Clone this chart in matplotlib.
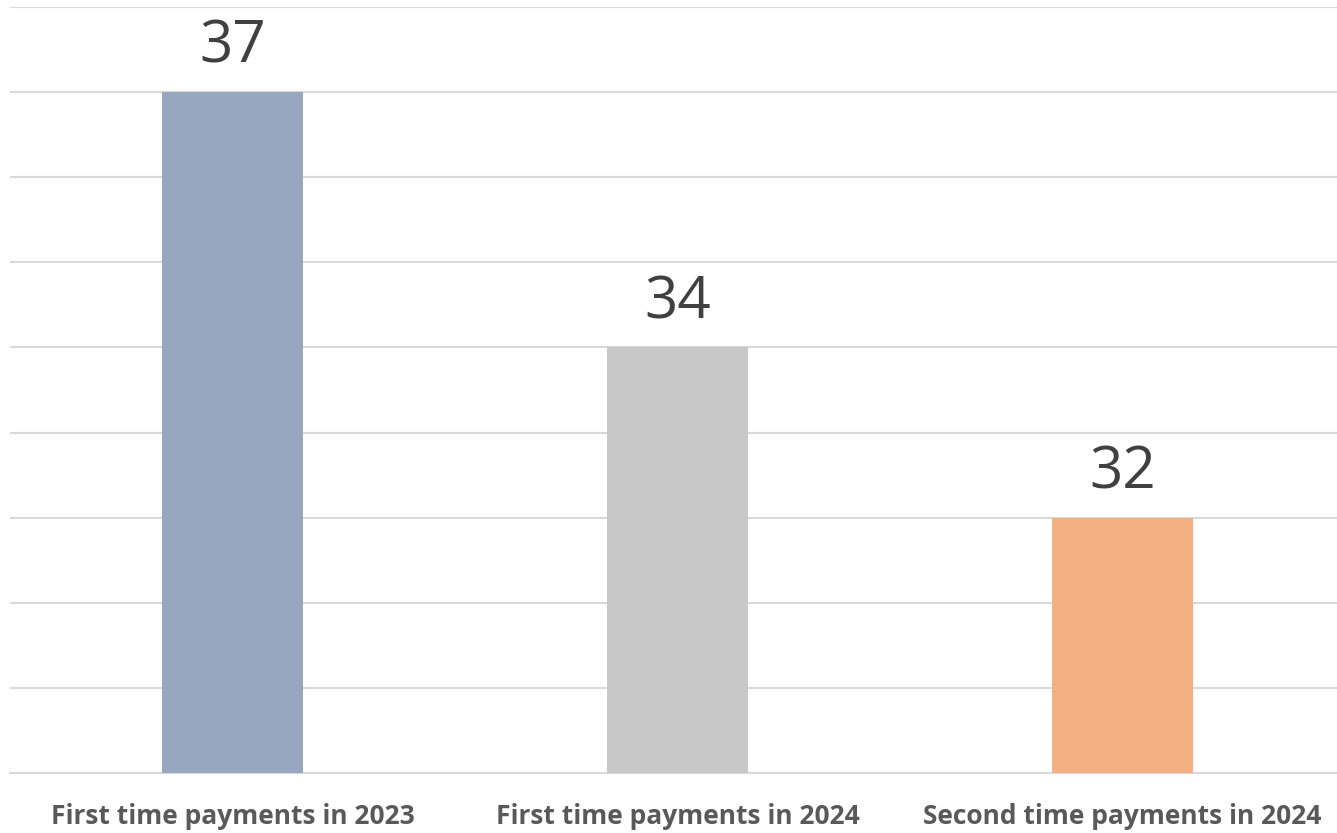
import matplotlib.pyplot as plt

categories = ['First time payments in 2023', 'First time payments in 2024',
              'Second time payments in 2024']
values = [37, 34, 32]
colors = ['#97A7BF', '#C8C8C8', '#F3B183']

plt.rcParams['font.family'] = ['Open Sans', 'DejaVu Sans']

fig = plt.figure(figsize=(13.37, 8.33), dpi=100)
ax = fig.add_axes([10 / 1337, 60 / 833, 1327 / 1337, 766 / 833])

x = range(len(categories))
bars = ax.bar(x, values, width=0.315, color=colors, zorder=3)

ax.set_xlim(-0.5, 2.482)
ax.set_ylim(29, 38)
ax.set_yticks(range(29, 39))
ax.grid(axis='y', color='#D9D9D9', linewidth=1.5, zorder=0)
ax.tick_params(left=False, labelleft=False, bottom=False)
for side in ['left', 'right', 'top']:
    ax.spines[side].set_visible(False)
ax.spines['bottom'].set_color('#D9D9D9')
ax.spines['bottom'].set_linewidth(1.5)

ax.set_xticks(list(x))
ax.set_xticklabels(categories, fontsize=19, fontweight='bold', color='#595959')
ax.tick_params(axis='x', pad=18)

for rect, v in zip(bars, values):
    ax.annotate(str(v), (rect.get_x() + rect.get_width() / 2, v),
                xytext=(0, 11), textcoords='offset points',
                ha='center', va='bottom', fontsize=42, color='#404040')

fig.savefig('out.png', dpi=100)
